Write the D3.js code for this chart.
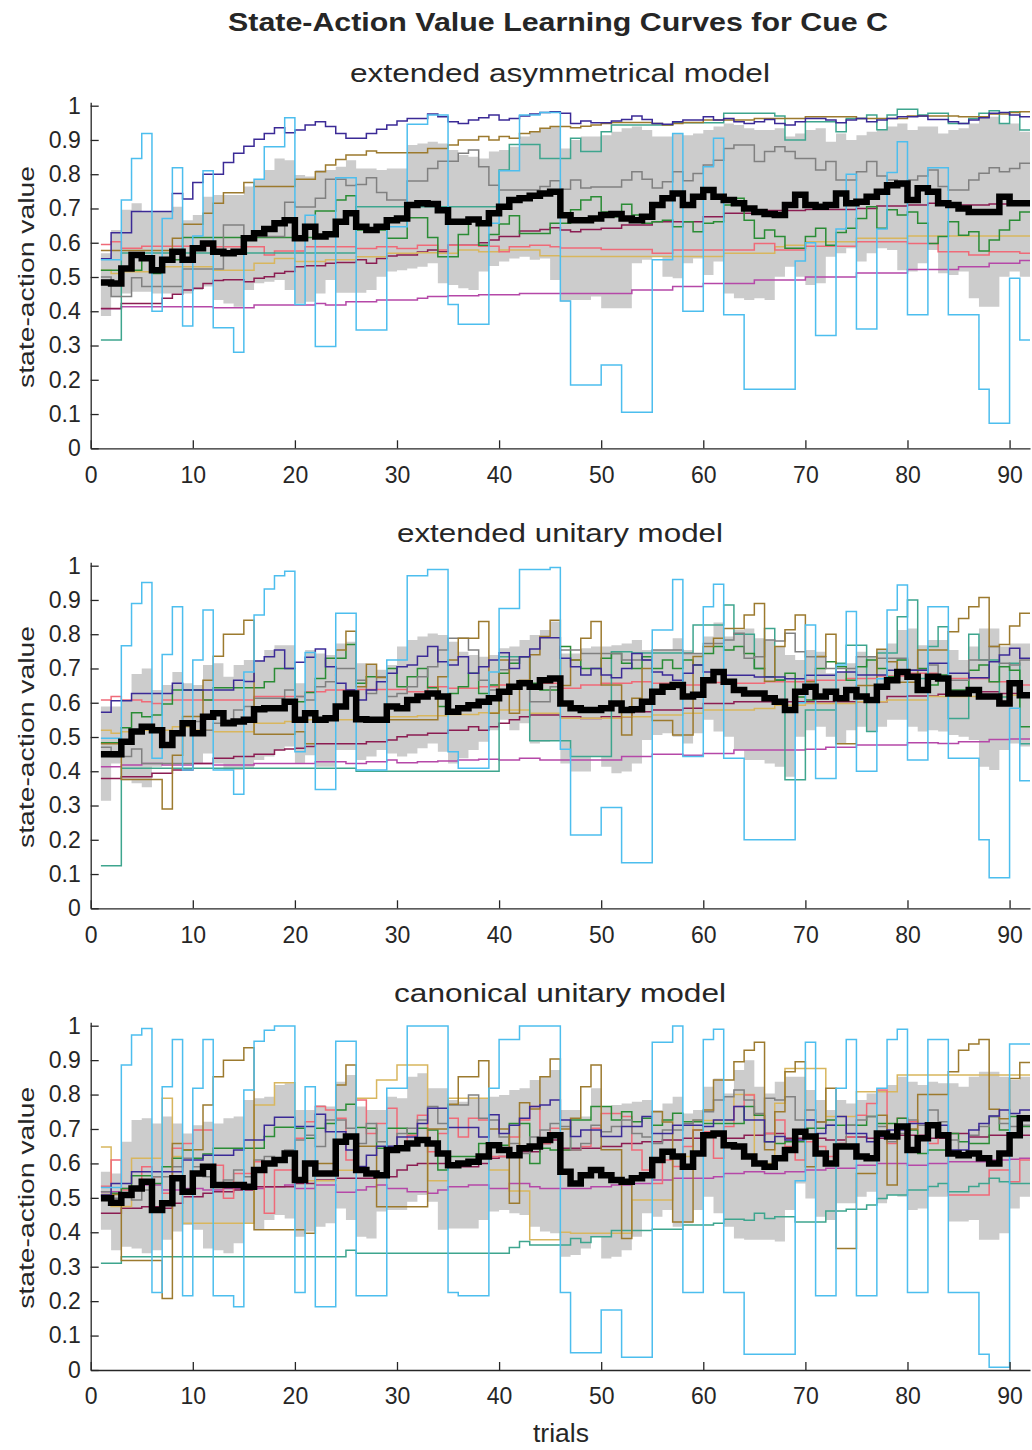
<!DOCTYPE html>
<html>
<head>
<meta charset="utf-8">
<script src="https://cdn.jsdelivr.net/npm/d3@7"></script>
<style>
  body { margin: 0; background: #fff; }
  svg text { font-family: 'Liberation Sans', Arial, Helvetica, sans-serif; fill: #262626; }
</style>
</head>
<body>
<svg width="1032" height="1450"></svg>
<script>
// each series: [trial, value] change points, value holds until the next change (stairs)
const trialCount = 92;
const xTicks = [0, 10, 20, 30, 40, 50, 60, 70, 80, 90];
const yTicks = [0, 0.1, 0.2, 0.3, 0.4, 0.5, 0.6, 0.7, 0.8, 0.9, 1];
const subtitles = ['extended asymmetrical model', 'extended unitary model', 'canonical unitary model'];

const colors = {
  magenta: '#b548a8', maroon: '#8b1d52', lightGold: '#d8b65e', salmon: '#ef6a78',
  teal: '#3ea58e', green: '#2a8c35', gray: '#808080', brown: '#9c7a2e',
  blue: '#3b2a96', cyan: '#4dbeee'
};

// ---------- extended asymmetrical model ----------
const asymBlue = [[1,.553],[2,.629],[4,.691],[8,.744],[9,.728],[10,.776],[11,.80],[13,.834],[14,.861],[15,.882],[16,.902],[17,.919],[18,.936],[19,.921],[20,.929],[21,.944],[22,.953],[23,.939],[24,.919],[25,.905],[27,.919],[28,.931],[29,.944],[30,.955],[31,.963],[33,.976],[34,.968],[35,.953],[36,.948],[37,.958],[38,.965],[39,.973],[40,.958],[41,.963],[42,.97],[43,.976],[44,.98],[45,.982],[46,.978],[47,.948],[48,.955],[49,.95],[51,.955],[52,.96],[53,.97],[54,.96],[55,.948],[56,.946],[57,.953],[58,.958],[60,.968],[61,.958],[62,.963],[63,.953],[64,.948],[65,.953],[66,.96],[67,.948],[68,.944],[69,.953],[70,.963],[72,.958],[73,.95],[74,.958],[75,.963],[76,.953],[77,.958],[78,.963],[79,.968],[81,.97],[82,.96],[84,.953],[85,.948],[86,.958],[87,.965],[88,.978],[89,.98],[90,.973],[91,.968]];
const asymCyan = [[1,.55],[3,.725],[4,.846],[5,.919],[6,.40],[7,.671],[8,.819],[9,.357],[10,.62],[11,.81],[12,.352],[14,.28],[15,.62],[16,.785],[17,.88],[19,.965],[20,.42],[21,.68],[22,.297],[24,.79],[26,.345],[29,.647],[31,.946],[33,.973],[35,.42],[36,.362],[39,.657],[40,.81],[42,.973],[44,.98],[46,.43],[47,.185],[50,.243],[52,.105],[55,.55],[57,.919],[58,.40],[60,.822],[61,.905],[62,.39],[64,.172],[69,.547],[70,.60],[71,.329],[73,.64],[74,.80],[75,.348],[77,.64],[78,.805],[79,.895],[80,.39],[82,.819],[84,.39],[87,.172],[88,.073],[90,.496],[91,.316]];
const asymBrown = [[1,.577],[8,.613],[9,.654],[11,.686],[12,.715],[13,.746],[15,.776],[16,.764],[20,.785],[22,.807],[23,.827],[24,.843],[25,.856],[27,.868],[28,.863],[33,.875],[35,.885],[36,.90],[38,.91],[39,.90],[40,.91],[41,.905],[42,.919],[43,.924],[44,.934],[45,.939],[47,.936],[48,.94],[49,.944],[50,.948],[51,.951],[55,.948],[56,.944],[57,.948],[58,.951],[60,.958],[65,.963],[70,.968],[75,.963],[80,.97],[85,.968],[88,.976],[90,.98],[91,.982]];
const asymTeal = [[1,.316],[3,.57],[26,.705],[40,.812],[41,.887],[44,.846],[47,.905],[48,.866],[50,.924],[51,.944],[57,.95],[62,.978],[67,.97],[68,.90],[70,.953],[73,.924],[74,.963],[76,.973],[77,.93],[78,.973],[79,.99],[81,.973],[82,.978],[84,.948],[86,.963],[87,.978],[88,.985],[89,.948],[90,.982],[91,.929]];
const asymGray = [[1,.50],[2,.443],[4,.498],[5,.472],[9,.523],[13,.652],[15,.618],[19,.718],[20,.704],[22,.73],[23,.785],[25,.767],[26,.77],[27,.79],[28,.747],[29,.725],[31,.78],[33,.817],[34,.838],[36,.861],[37,.871],[38,.822],[39,.768],[40,.754],[44,.764],[45,.781],[46,.756],[47,.783],[48,.76],[49,.763],[52,.783],[53,.807],[54,.785],[55,.76],[56,.778],[57,.807],[58,.781],[59,.802],[60,.827],[61,.841],[62,.875],[63,.885],[65,.837],[66,.866],[67,.88],[68,.866],[69,.846],[71,.812],[72,.837],[73,.783],[75,.807],[76,.837],[77,.795],[78,.783],[79,.764],[80,.783],[81,.795],[82,.812],[83,.764],[84,.754],[86,.783],[87,.803],[88,.819],[89,.807],[90,.817],[91,.832]];
const asymGreen = [[1,.52],[5,.555],[6,.51],[7,.55],[9,.615],[22,.693],[24,.725],[25,.737],[26,.637],[29,.613],[31,.673],[33,.615],[34,.559],[36,.624],[37,.671],[38,.593],[39,.624],[40,.655],[41,.679],[42,.627],[45,.657],[47,.696],[48,.725],[49,.734],[50,.69],[51,.676],[52,.712],[53,.681],[54,.657],[55,.661],[56,.666],[57,.647],[58,.661],[59,.632],[60,.657],[61,.661],[62,.71],[63,.73],[64,.666],[65,.613],[66,.637],[67,.618],[68,.584],[70,.618],[71,.642],[72,.593],[73,.63],[74,.642],[75,.671],[76,.705],[77,.642],[78,.696],[79,.681],[80,.69],[81,.657],[82,.598],[83,.618],[84,.661],[85,.622],[86,.632],[87,.576],[88,.608],[89,.637],[90,.666],[91,.69]];
const asymSalmon = [[1,.595],[2,.603],[3,.584],[5,.59],[12,.588],[17,.564],[18,.576],[21,.588],[26,.583],[28,.588],[30,.583],[32,.593],[34,.579],[35,.593],[38,.59],[40,.574],[41,.588],[43,.593],[45,.588],[46,.585],[50,.58],[55,.569],[57,.579],[65,.598],[67,.579],[70,.59],[75,.603],[80,.598],[83,.574],[86,.564],[88,.574],[91,.569]];
const asymLightGold = [[1,.52],[2,.51],[3,.515],[7,.53],[12,.52],[16,.54],[18,.554],[20,.545],[23,.55],[26,.559],[29,.569],[32,.571],[34,.569],[36,.579],[38,.574],[40,.579],[44,.562],[46,.56],[62,.569],[67,.588],[68,.593],[70,.603],[75,.613],[80,.62]];
const asymMaroon = [[1,.408],[3,.423],[7,.438],[8,.45],[9,.462],[10,.467],[11,.481],[12,.49],[13,.492],[15,.486],[16,.496],[17,.501],[18,.511],[19,.516],[20,.53],[21,.533],[23,.54],[24,.542],[26,.55],[27,.54],[28,.554],[29,.561],[30,.564],[32,.573],[33,.579],[34,.574],[35,.593],[38,.60],[39,.608],[40,.618],[42,.634],[44,.639],[45,.644],[46,.637],[47,.632],[48,.639],[50,.642],[52,.652],[55,.661],[60,.676],[62,.686],[65,.694],[70,.697],[75,.70],[77,.707],[80,.71],[82,.715],[85,.71],[88,.713],[90,.715]];
const asymMagenta = [[1,.407],[3,.413],[12,.41],[16,.418],[22,.423],[23,.418],[25,.428],[28,.433],[32,.438],[33,.443],[35,.445],[38,.448],[42,.452],[53,.462],[57,.472],[60,.481],[65,.491],[70,.50],[75,.512],[80,.522],[85,.53],[88,.54],[91,.548]];
const asymMean = [[1,.484],[2,.481],[3,.525],[4,.564],[5,.555],[6,.52],[7,.55],[8,.574],[9,.55],[10,.584],[11,.598],[12,.574],[13,.569],[14,.574],[15,.613],[16,.628],[17,.64],[18,.657],[19,.666],[20,.613],[21,.647],[22,.618],[23,.625],[24,.661],[25,.686],[26,.647],[27,.637],[28,.647],[29,.666],[30,.671],[31,.71],[32,.715],[33,.713],[34,.695],[35,.661],[37,.668],[38,.657],[39,.686],[40,.705],[41,.725],[42,.73],[43,.737],[44,.744],[45,.749],[46,.68],[47,.666],[49,.671],[50,.681],[51,.684],[52,.671],[53,.666],[54,.676],[55,.71],[56,.73],[57,.744],[58,.71],[59,.734],[60,.754],[61,.734],[62,.725],[63,.715],[64,.70],[65,.69],[66,.684],[67,.681],[68,.71],[69,.74],[70,.71],[71,.705],[72,.71],[73,.744],[74,.715],[75,.72],[76,.734],[77,.749],[78,.768],[79,.773],[80,.725],[81,.759],[82,.749],[83,.715],[84,.71],[85,.70],[86,.69],[89,.734],[90,.715]];
const asymUpper = [[1,.569],[2,.637],[3,.696],[4,.715],[5,.69],[8,.705],[9,.666],[10,.681],[11,.734],[12,.739],[15,.764],[16,.783],[17,.812],[18,.846],[19,.841],[20,.798],[21,.793],[22,.812],[24,.822],[25,.841],[26,.817],[28,.812],[29,.817],[31,.885],[32,.89],[33,.895],[34,.89],[35,.871],[36,.856],[37,.851],[38,.846],[39,.866],[40,.871],[41,.88],[42,.91],[43,.924],[44,.934],[45,.939],[46,.875],[47,.90],[48,.91],[50,.914],[51,.924],[52,.934],[53,.939],[54,.929],[55,.91],[57,.919],[58,.914],[59,.919],[60,.929],[61,.939],[62,.948],[63,.944],[64,.934],[65,.929],[67,.934],[68,.91],[69,.919],[70,.929],[71,.934],[72,.895],[73,.919],[74,.90],[75,.914],[76,.924],[77,.929],[78,.939],[79,.948],[80,.929],[81,.939],[83,.919],[84,.929],[85,.934],[86,.948],[87,.968],[89,.948],[91,.924]];
const asymLower = [[1,.386],[2,.441],[3,.452],[4,.457],[6,.452],[10,.462],[11,.472],[12,.433],[13,.423],[14,.413],[15,.462],[16,.482],[17,.486],[18,.491],[19,.462],[20,.423],[21,.428],[22,.452],[23,.491],[24,.454],[27,.462],[28,.501],[29,.516],[30,.52],[31,.525],[32,.53],[33,.54],[34,.482],[35,.477],[36,.467],[37,.462],[38,.516],[39,.532],[40,.545],[41,.554],[42,.559],[43,.55],[44,.554],[45,.491],[46,.428],[47,.433],[49,.443],[50,.409],[53,.54],[54,.55],[55,.559],[56,.501],[57,.496],[58,.54],[59,.554],[60,.506],[61,.545],[62,.452],[63,.438],[64,.433],[65,.438],[66,.433],[67,.501],[68,.53],[69,.501],[70,.477],[71,.482],[72,.559],[73,.569],[74,.584],[75,.545],[76,.569],[77,.584],[78,.579],[79,.52],[80,.516],[81,.54],[82,.579],[83,.511],[84,.506],[85,.516],[86,.438],[87,.413],[89,.501],[90,.516],[91,.501]];

// ---------- extended unitary model ----------
const unitBlue = [[1,.572],[2,.606],[4,.627],[8,.657],[9,.637],[14,.666],[15,.662],[16,.722],[17,.734],[18,.754],[19,.70],[20,.718],[21,.733],[22,.757],[23,.705],[24,.657],[25,.637],[26,.608],[27,.637],[28,.661],[29,.686],[30,.705],[31,.71],[32,.736],[33,.764],[34,.72],[35,.71],[36,.734],[37,.686],[38,.705],[39,.725],[40,.746],[41,.70],[42,.734],[43,.757],[44,.79],[46,.73],[47,.705],[48,.681],[49,.70],[50,.681],[51,.673],[52,.70],[53,.744],[54,.725],[55,.69],[56,.681],[57,.666],[58,.686],[59,.71],[60,.69],[62,.68],[65,.675],[68,.67],[70,.68],[73,.69],[75,.681],[78,.695],[82,.715],[84,.686],[86,.673],[88,.72],[89,.739],[90,.759],[91,.73]];
const unitCyan = [[1,.496],[3,.766],[4,.89],[5,.951],[6,.438],[7,.741],[8,.88],[9,.404],[10,.725],[11,.871],[12,.404],[14,.333],[15,.69],[16,.856],[17,.932],[18,.971],[19,.984],[20,.457],[21,.747],[22,.347],[24,.861],[26,.404],[29,.725],[31,.971],[33,.989],[35,.457],[36,.409],[39,.69],[40,.875],[42,.989],[45,.995],[46,.464],[47,.214],[50,.294],[52,.133],[55,.812],[57,.96],[58,.443],[60,.88],[61,.946],[62,.438],[64,.20],[69,.60],[70,.827],[71,.379],[73,.71],[74,.866],[75,.40],[77,.67],[78,.871],[79,.944],[80,.433],[82,.88],[84,.438],[87,.20],[88,.089],[90,.584],[91,.372]];
const unitBrown = [[1,.48],[3,.376],[7,.29],[8,.447],[9,.56],[11,.666],[12,.736],[13,.80],[15,.841],[16,.508],[20,.515],[21,.48],[22,.55],[24,.754],[25,.809],[26,.647],[27,.712],[28,.674],[29,.55],[34,.676],[35,.725],[36,.788],[38,.837],[39,.569],[40,.725],[41,.569],[42,.666],[43,.74],[44,.793],[45,.841],[46,.65],[47,.725],[48,.788],[49,.837],[50,.652],[52,.506],[53,.613],[54,.70],[55,.548],[57,.506],[59,.735],[60,.764],[61,.788],[62,.817],[64,.856],[65,.89],[66,.663],[67,.764],[68,.813],[69,.856],[70,.661],[71,.735],[72,.80],[73,.48],[75,.65],[77,.756],[78,.72],[79,.66],[81,.754],[84,.807],[85,.846],[86,.88],[87,.907],[88,.764],[89,.77],[90,.824],[91,.861]];
const unitTeal = [[1,.124],[3,.409],[26,.40],[40,.734],[43,.489],[47,.443],[51,.749],[53,.745],[59,.827],[62,.885],[63,.80],[65,.70],[66,.817],[67,.667],[68,.375],[70,.579],[73,.715],[74,.768],[76,.516],[77,.745],[79,.851],[80,.90],[81,.671],[82,.764],[83,.822],[84,.554],[86,.80],[87,.725],[89,.617],[90,.715],[91,.48]];
const unitGray = [[1,.47],[2,.443],[4,.465],[5,.423],[10,.545],[11,.52],[12,.54],[13,.55],[14,.579],[15,.589],[16,.613],[19,.637],[20,.618],[21,.608],[22,.647],[23,.661],[24,.70],[26,.666],[27,.627],[28,.676],[29,.618],[30,.627],[31,.647],[32,.676],[33,.705],[34,.754],[35,.788],[37,.754],[38,.666],[39,.637],[40,.696],[41,.725],[42,.734],[43,.603],[45,.647],[46,.754],[48,.744],[52,.725],[55,.754],[58,.744],[60,.773],[62,.783],[63,.803],[64,.73],[65,.734],[66,.783],[67,.78],[68,.803],[69,.749],[70,.734],[72,.70],[75,.734],[77,.73],[80,.696],[82,.71],[83,.666],[86,.725],[88,.764],[89,.715],[90,.71],[91,.725]];
const unitGreen = [[1,.483],[3,.527],[4,.571],[5,.559],[6,.564],[7,.596],[8,.637],[11,.608],[12,.644],[17,.661],[18,.70],[20,.603],[21,.63],[22,.671],[23,.73],[25,.77],[26,.657],[27,.676],[29,.70],[30,.647],[31,.676],[32,.70],[33,.644],[34,.589],[35,.627],[36,.647],[37,.686],[38,.627],[39,.652],[40,.686],[41,.715],[42,.734],[43,.657],[44,.637],[46,.764],[47,.725],[48,.70],[50,.73],[51,.744],[52,.715],[53,.70],[54,.734],[55,.70],[56,.725],[57,.70],[58,.725],[59,.71],[60,.744],[61,.764],[62,.754],[63,.764],[64,.744],[65,.70],[66,.676],[67,.666],[68,.686],[69,.617],[70,.608],[71,.70],[72,.72],[73,.705],[74,.666],[75,.705],[76,.725],[77,.70],[78,.676],[79,.725],[80,.695],[81,.70],[82,.652],[83,.681],[84,.637],[86,.695],[87,.71],[88,.661],[89,.705],[90,.695],[91,.53]];
const unitSalmon = [[1,.608],[2,.618],[3,.608],[5,.603],[6,.598],[7,.608],[16,.618],[21,.632],[23,.637],[26,.639],[31,.632],[33,.647],[35,.642],[38,.647],[40,.652],[44,.657],[46,.642],[48,.652],[50,.657],[53,.661],[55,.657],[57,.652],[60,.659],[63,.657],[66,.661],[70,.666],[74,.671],[77,.678],[80,.686],[83,.671],[88,.661],[90,.652]];
const unitLightGold = [[1,.52],[2,.511],[3,.515],[5,.52],[8,.53],[10,.52],[12,.515],[16,.54],[19,.545],[21,.55],[26,.554],[29,.559],[32,.562],[35,.566],[38,.571],[40,.579],[43,.569],[46,.555],[52,.559],[55,.564],[58,.569],[60,.579],[65,.583],[67,.593],[70,.598],[75,.603],[78,.608],[82,.618],[90,.622]];
const unitMaroon = [[1,.379],[3,.384],[6,.394],[8,.404],[10,.423],[12,.438],[14,.443],[16,.45],[18,.462],[19,.465],[20,.467],[21,.472],[22,.48],[27,.486],[29,.491],[30,.501],[31,.506],[33,.511],[35,.52],[37,.53],[38,.52],[39,.53],[40,.54],[41,.55],[42,.559],[43,.564],[46,.559],[48,.554],[50,.559],[53,.574],[55,.579],[58,.584],[60,.598],[63,.603],[78,.618],[80,.62],[83,.625],[86,.632],[89,.627],[91,.629]];
const unitMagenta = [[1,.413],[3,.418],[5,.423],[7,.418],[10,.423],[12,.418],[16,.423],[22,.428],[25,.423],[27,.428],[29,.433],[30,.425],[32,.428],[34,.43],[36,.433],[38,.435],[40,.433],[42,.438],[44,.433],[52,.443],[55,.45],[58,.447],[60,.452],[63,.462],[70,.464],[72,.47],[75,.477],[80,.483],[83,.481],[85,.486],[88,.493],[90,.494]];
const unitMean = [[1,.45],[3,.486],[4,.516],[5,.53],[6,.52],[7,.477],[8,.511],[9,.54],[10,.511],[11,.559],[12,.569],[13,.54],[14,.545],[15,.55],[16,.581],[17,.584],[19,.603],[20,.55],[21,.569],[22,.55],[23,.555],[24,.589],[25,.627],[26,.552],[27,.55],[29,.589],[30,.584],[31,.608],[32,.618],[33,.627],[34,.618],[35,.574],[36,.584],[37,.593],[38,.603],[39,.613],[40,.632],[41,.647],[42,.657],[43,.647],[44,.666],[45,.671],[46,.598],[47,.584],[48,.579],[50,.584],[51,.598],[52,.579],[53,.581],[54,.603],[55,.632],[56,.647],[57,.652],[58,.618],[59,.623],[60,.666],[61,.69],[62,.661],[63,.637],[64,.627],[66,.613],[67,.603],[68,.579],[69,.632],[70,.647],[71,.618],[72,.632],[73,.613],[74,.637],[75,.618],[76,.608],[77,.647],[78,.666],[79,.69],[80,.676],[81,.637],[82,.676],[83,.671],[84,.627],[86,.637],[87,.618],[89,.598],[90,.657],[91,.622]];
const unitUpper = [[1,.589],[3,.608],[4,.684],[5,.70],[6,.637],[7,.652],[8,.69],[9,.657],[10,.652],[11,.71],[12,.715],[13,.676],[14,.71],[15,.725],[17,.754],[18,.768],[20,.657],[21,.754],[22,.744],[23,.739],[24,.773],[25,.778],[26,.715],[27,.71],[28,.696],[29,.71],[30,.764],[31,.783],[32,.793],[33,.802],[34,.798],[35,.778],[36,.749],[37,.739],[38,.734],[39,.739],[40,.759],[41,.764],[42,.783],[43,.798],[44,.812],[45,.837],[46,.744],[48,.759],[49,.764],[51,.768],[52,.773],[53,.783],[54,.754],[57,.788],[58,.754],[59,.744],[60,.793],[61,.834],[62,.793],[63,.812],[64,.817],[65,.788],[66,.783],[67,.764],[68,.739],[69,.725],[70,.754],[71,.749],[72,.686],[73,.69],[74,.715],[75,.749],[76,.734],[77,.754],[78,.773],[79,.812],[80,.817],[81,.768],[82,.783],[84,.754],[85,.725],[86,.764],[87,.817],[89,.764],[90,.773]];
const unitLower = [[1,.314],[2,.423],[3,.374],[4,.365],[5,.353],[6,.413],[7,.423],[11,.452],[12,.423],[13,.404],[15,.409],[16,.433],[17,.443],[18,.462],[19,.472],[20,.423],[21,.447],[22,.413],[24,.462],[26,.433],[27,.443],[28,.462],[29,.452],[30,.443],[31,.452],[32,.467],[33,.481],[34,.457],[35,.423],[36,.438],[37,.462],[38,.486],[39,.52],[40,.55],[41,.52],[42,.54],[43,.481],[44,.486],[45,.491],[46,.423],[47,.399],[49,.443],[50,.413],[51,.394],[52,.399],[53,.423],[54,.491],[55,.506],[56,.511],[57,.501],[58,.481],[59,.511],[60,.55],[61,.516],[62,.501],[63,.462],[64,.433],[66,.423],[67,.413],[68,.384],[69,.501],[70,.52],[71,.53],[72,.501],[73,.481],[74,.52],[75,.53],[76,.516],[77,.53],[78,.55],[80,.53],[81,.516],[82,.52],[83,.516],[84,.506],[85,.501],[86,.491],[87,.413],[88,.404],[89,.462],[90,.481],[91,.472]];

// ---------- canonical unitary model ----------
const canonBlue = [[1,.508],[2,.542],[4,.576],[9,.61],[11,.624],[14,.639],[15,.668],[17,.711],[18,.734],[20,.707],[22,.743],[23,.692],[25,.639],[26,.591],[27,.624],[28,.65],[30,.677],[32,.716],[33,.76],[35,.704],[38,.677],[39,.741],[40,.687],[41,.711],[42,.731],[43,.765],[44,.77],[45,.784],[46,.726],[47,.678],[48,.697],[50,.678],[52,.707],[54,.736],[55,.687],[57,.711],[60,.707],[61,.726],[63,.765],[64,.726],[66,.663],[67,.678],[68,.668],[70,.726],[71,.687],[72,.711],[73,.736],[74,.687],[76,.663],[77,.678],[78,.697],[80,.716],[82,.711],[84,.639],[86,.697],[87,.716],[88,.738],[89,.755],[90,.745],[91,.755]];
const canonCyan = [[1,.53],[3,.886],[4,.973],[5,.992],[6,.225],[7,.823],[8,.96],[9,.216],[10,.818],[11,.96],[12,.216],[14,.184],[15,.813],[16,.955],[17,.987],[18,.999],[20,.225],[21,.823],[22,.184],[24,.955],[26,.216],[29,.818],[31,.999],[35,.225],[36,.216],[39,.818],[40,.96],[42,.999],[46,.225],[47,.05],[50,.174],[52,.037],[55,.952],[57,.999],[58,.225],[60,.96],[61,.99],[62,.225],[64,.046],[69,.55],[70,.952],[71,.216],[73,.818],[74,.96],[75,.216],[77,.818],[78,.96],[79,.99],[80,.225],[82,.96],[84,.225],[87,.046],[88,.008],[90,.947]];
const canonBrown = [[1,.51],[3,.318],[7,.208],[8,.658],[9,.64],[11,.77],[12,.852],[13,.90],[15,.936],[16,.407],[21,.397],[22,.60],[24,.828],[25,.886],[26,.65],[28,.474],[33,.70],[35,.772],[36,.852],[38,.898],[39,.70],[41,.484],[42,.776],[43,.758],[44,.852],[45,.903],[46,.70],[47,.731],[48,.823],[49,.886],[50,.64],[52,.382],[53,.56],[55,.75],[56,.72],[57,.43],[59,.697],[60,.755],[61,.842],[63,.895],[64,.929],[65,.952],[66,.64],[67,.75],[68,.866],[69,.895],[70,.59],[71,.72],[72,.818],[73,.353],[75,.571],[77,.74],[78,.537],[79,.70],[81,.80],[84,.866],[85,.929],[86,.947],[87,.96],[88,.757],[89,.73],[90,.847],[91,.893]];
const canonTeal = [[1,.31],[3,.329],[25,.348],[26,.339],[41,.356],[42,.373],[43,.363],[47,.382],[48,.37],[49,.387],[51,.405],[55,.409],[58,.421],[61,.426],[62,.438],[64,.435],[65,.455],[66,.44],[67,.445],[69,.43],[72,.462],[74,.467],[76,.479],[77,.498],[78,.508],[80,.523],[82,.533],[83,.542],[84,.518],[86,.533],[87,.542],[88,.557],[89,.547],[90,.542]];
const canonGray = [[1,.518],[2,.499],[3,.508],[4,.494],[5,.523],[6,.561],[8,.59],[9,.615],[10,.59],[11,.561],[12,.542],[13,.552],[14,.581],[15,.561],[16,.61],[17,.62],[18,.61],[19,.639],[20,.668],[21,.682],[22,.649],[23,.726],[25,.702],[26,.658],[27,.716],[28,.663],[29,.649],[30,.687],[31,.702],[32,.726],[33,.765],[34,.716],[35,.77],[37,.799],[38,.731],[39,.726],[40,.677],[41,.658],[42,.629],[43,.677],[44,.697],[45,.716],[46,.707],[47,.639],[48,.658],[49,.711],[50,.692],[51,.707],[52,.726],[53,.687],[54,.677],[55,.658],[56,.697],[58,.716],[59,.726],[60,.75],[61,.784],[62,.794],[63,.813],[64,.784],[65,.745],[66,.789],[67,.784],[68,.794],[69,.726],[70,.755],[71,.721],[72,.711],[73,.658],[74,.711],[75,.726],[76,.736],[77,.707],[78,.663],[79,.687],[80,.726],[81,.711],[82,.755],[83,.721],[84,.668],[85,.62],[86,.682],[87,.707],[88,.736],[89,.716],[90,.707],[91,.711]];
const canonGreen = [[1,.505],[2,.513],[3,.527],[4,.564],[6,.542],[7,.59],[8,.615],[9,.639],[10,.615],[11,.627],[12,.644],[17,.678],[18,.705],[20,.702],[21,.673],[22,.702],[23,.716],[24,.755],[25,.772],[26,.704],[27,.702],[28,.644],[29,.702],[31,.687],[32,.702],[33,.697],[34,.581],[35,.62],[38,.658],[39,.653],[41,.716],[43,.60],[44,.644],[45,.639],[47,.726],[49,.765],[51,.726],[52,.75],[53,.721],[54,.731],[55,.711],[56,.726],[57,.746],[58,.721],[60,.716],[64,.765],[65,.74],[66,.663],[67,.658],[68,.663],[70,.702],[72,.726],[73,.711],[76,.736],[77,.716],[79,.731],[80,.697],[81,.629],[82,.639],[84,.687],[85,.663],[86,.658],[88,.736],[89,.697],[90,.736],[91,.707]];
const canonSalmon = [[1,.534],[2,.61],[3,.523],[5,.59],[6,.561],[7,.513],[8,.644],[9,.658],[10,.697],[12,.595],[13,.499],[14,.571],[16,.605],[17,.455],[18,.581],[20,.673],[21,.721],[22,.765],[23,.755],[24,.731],[25,.61],[26,.784],[27,.687],[28,.716],[29,.76],[30,.649],[31,.682],[32,.74],[33,.634],[34,.687],[35,.731],[36,.677],[37,.731],[38,.726],[39,.62],[41,.677],[42,.726],[43,.765],[44,.658],[45,.702],[46,.639],[48,.649],[49,.702],[50,.745],[52,.736],[53,.639],[54,.581],[55,.542],[56,.61],[57,.591],[58,.649],[59,.697],[60,.692],[61,.615],[62,.707],[63,.765],[64,.799],[65,.74],[66,.687],[67,.726],[68,.649],[69,.61],[70,.663],[71,.649],[72,.62],[73,.658],[74,.677],[75,.74],[76,.774],[77,.813],[78,.658],[79,.731],[80,.721],[81,.677],[82,.658],[83,.687],[84,.508],[88,.581],[90,.547],[91,.61]];
const canonLightGold = [[1,.648],[2,.475],[4,.615],[7,.789],[8,.62],[9,.426],[16,.77],[18,.834],[20,.55],[24,.58],[26,.789],[28,.842],[30,.886],[33,.55],[35,.789],[39,.581],[41,.52],[43,.378],[46,.40],[47,.397],[53,.494],[57,.62],[59,.725],[63,.80],[65,.60],[67,.775],[68,.876],[72,.736],[75,.808],[79,.857]];
const canonMaroon = [[1,.455],[3,.47],[5,.474],[7,.47],[8,.484],[9,.503],[11,.513],[12,.518],[14,.523],[16,.532],[20,.542],[22,.552],[24,.557],[28,.561],[30,.581],[31,.595],[32,.60],[36,.59],[38,.60],[39,.615],[40,.62],[42,.634],[44,.658],[45,.668],[46,.644],[50,.649],[52,.658],[54,.663],[56,.668],[58,.673],[60,.68],[62,.673],[64,.682],[66,.687],[68,.673],[72,.668],[74,.677],[76,.673],[78,.682],[82,.673],[84,.687],[86,.677],[88,.682],[90,.677],[91,.682]];
const canonMagenta = [[1,.518],[3,.527],[5,.537],[7,.523],[9,.527],[11,.523],[13,.527],[17,.532],[19,.537],[20,.527],[22,.537],[24,.516],[26,.523],[27,.532],[28,.537],[29,.527],[31,.518],[33,.513],[34,.523],[35,.532],[37,.537],[39,.527],[41,.542],[43,.532],[44,.527],[49,.532],[51,.537],[53,.542],[55,.552],[57,.557],[61,.561],[62,.571],[64,.576],[66,.571],[68,.576],[70,.581],[72,.586],[75,.595],[77,.60],[80,.595],[82,.60],[84,.605],[88,.61],[90,.612],[91,.615]];
const canonMean = [[1,.499],[2,.486],[3,.508],[4,.527],[5,.547],[6,.465],[7,.484],[8,.557],[9,.518],[10,.571],[11,.59],[12,.537],[15,.532],[16,.581],[17,.60],[18,.61],[19,.629],[20,.552],[21,.60],[22,.571],[24,.663],[25,.678],[26,.581],[27,.571],[28,.566],[29,.639],[30,.644],[31,.658],[32,.668],[33,.658],[34,.629],[35,.595],[36,.60],[37,.605],[38,.62],[39,.653],[40,.639],[41,.624],[42,.644],[43,.649],[44,.668],[45,.682],[46,.576],[47,.542],[48,.566],[49,.581],[50,.566],[51,.552],[52,.547],[53,.557],[54,.566],[55,.61],[56,.634],[57,.62],[58,.59],[59,.629],[60,.682],[61,.687],[62,.653],[63,.649],[64,.62],[65,.60],[66,.59],[67,.615],[68,.639],[69,.692],[70,.678],[71,.629],[72,.60],[73,.649],[75,.62],[76,.615],[77,.687],[78,.678],[79,.707],[80,.639],[81,.673],[82,.711],[83,.682],[84,.629],[85,.624],[86,.629],[87,.615],[88,.60],[89,.629],[90,.682],[91,.731]];
const canonUpper = [[1,.576],[2,.571],[3,.663],[4,.726],[5,.731],[6,.716],[7,.736],[8,.716],[9,.687],[10,.711],[11,.721],[12,.716],[13,.731],[14,.736],[15,.784],[16,.789],[17,.794],[18,.828],[19,.833],[20,.755],[22,.77],[23,.765],[24,.837],[25,.857],[26,.765],[27,.755],[29,.794],[30,.789],[31,.852],[32,.862],[33,.818],[35,.784],[36,.779],[37,.794],[38,.789],[39,.794],[40,.799],[41,.813],[42,.818],[43,.842],[44,.852],[45,.871],[46,.755],[48,.736],[49,.818],[50,.765],[51,.77],[52,.774],[53,.779],[54,.784],[55,.755],[56,.774],[57,.794],[58,.745],[59,.755],[60,.823],[61,.847],[62,.803],[63,.871],[64,.90],[65,.823],[66,.803],[67,.837],[68,.852],[70,.813],[71,.784],[72,.755],[73,.784],[74,.774],[75,.784],[76,.803],[77,.813],[78,.828],[79,.852],[80,.837],[81,.828],[82,.837],[83,.833],[85,.823],[86,.852],[87,.866],[89,.852],[90,.842],[91,.852]];
const canonLower = [[1,.407],[2,.348],[3,.358],[4,.353],[5,.339],[6,.348],[7,.378],[8,.402],[9,.421],[10,.407],[11,.353],[12,.348],[13,.339],[14,.368],[15,.426],[16,.407],[17,.436],[18,.45],[19,.44],[20,.387],[21,.402],[22,.416],[23,.426],[24,.469],[25,.436],[26,.387],[27,.382],[28,.46],[29,.465],[31,.489],[32,.508],[33,.489],[34,.407],[35,.411],[38,.436],[39,.46],[40,.465],[41,.455],[42,.45],[43,.416],[44,.402],[45,.397],[46,.329],[47,.334],[48,.353],[49,.387],[50,.324],[51,.329],[52,.348],[53,.387],[54,.455],[55,.445],[56,.465],[57,.416],[58,.426],[59,.465],[60,.503],[61,.455],[62,.416],[63,.382],[64,.378],[67,.373],[68,.465],[69,.542],[70,.498],[71,.445],[72,.436],[73,.484],[75,.503],[76,.518],[77,.484],[78,.508],[79,.503],[80,.465],[81,.469],[82,.503],[84,.431],[86,.436],[87,.378],[89,.397],[90,.469],[91,.503]];

const panels = [
  { top: 105.7, bottom: 448.3, upper: asymUpper, lower: asymLower, mean: asymMean,
    lines: { magenta: asymMagenta, maroon: asymMaroon, lightGold: asymLightGold, salmon: asymSalmon, teal: asymTeal,
             green: asymGreen, gray: asymGray, brown: asymBrown, blue: asymBlue, cyan: asymCyan } },
  { top: 565.7, bottom: 908.3, upper: unitUpper, lower: unitLower, mean: unitMean,
    lines: { magenta: unitMagenta, maroon: unitMaroon, lightGold: unitLightGold, salmon: unitSalmon, teal: unitTeal,
             green: unitGreen, gray: unitGray, brown: unitBrown, blue: unitBlue, cyan: unitCyan } },
  { top: 1025.7, bottom: 1370, upper: canonUpper, lower: canonLower, mean: canonMean,
    lines: { magenta: canonMagenta, maroon: canonMaroon, lightGold: canonLightGold, salmon: canonSalmon, teal: canonTeal,
             green: canonGreen, gray: canonGray, brown: canonBrown, blue: canonBlue, cyan: canonCyan } }
];

const svg = d3.select('svg');

const x = d3.scaleLinear().domain([0, 92]).range([90.7, 1030]);

// stairs: add the last point at the final trial
function stairs(changes) {
  const pts = changes.slice();
  const last = pts[pts.length - 1];
  if (last[0] < trialCount) pts.push([trialCount, last[1]]);
  return pts;
}

// value at every trial (held from the last change)
function held(changes) {
  const out = [];
  let k = 0;
  for (let t = 1; t <= trialCount; t++) {
    while (k + 1 < changes.length && changes[k + 1][0] <= t) k++;
    out.push(changes[k][1]);
  }
  return out;
}

svg.append('text')
  .attr('x', 558)
  .attr('y', 31)
  .attr('text-anchor', 'middle')
  .attr('font-size', 26)
  .attr('font-weight', 'bold')
  .attr('textLength', 660)
  .attr('lengthAdjust', 'spacingAndGlyphs')
  .text('State-Action Value Learning Curves for Cue C');

const subtitleWidths = [420, 326, 332];

panels.forEach((p, i) => {
  const y = d3.scaleLinear()
    .domain([0, 1.01])
    .range([p.bottom, p.bottom - (p.bottom - p.top) * 1.01]);

  const g = svg.append('g');

  // grey band
  const up = held(p.upper);
  const lo = held(p.lower);
  const band = d3.area()
    .x((d, j) => x(j + 1))
    .y0((d, j) => y(lo[j]))
    .y1((d, j) => y(up[j]))
    .curve(d3.curveStepAfter);
  g.append('path')
    .attr('d', band(up))
    .attr('fill', '#cccccc');

  const line = d3.line()
    .x(d => x(d[0]))
    .y(d => y(d[1]))
    .curve(d3.curveStepAfter);

  Object.keys(p.lines).forEach(name => {
    g.append('path')
      .attr('d', line(stairs(p.lines[name])))
      .attr('fill', 'none')
      .attr('stroke', colors[name])
      .attr('stroke-width', 1.5);
  });

  g.append('path')
    .attr('d', line(stairs(p.mean)))
    .attr('fill', 'none')
    .attr('stroke', '#000')
    .attr('stroke-width', 6.5)
    .attr('stroke-linejoin', 'miter');

  // axes, ticks inward
  const xAxis = g.append('g')
    .attr('transform', `translate(0, ${p.bottom})`)
    .call(d3.axisBottom(x).tickValues(xTicks).tickSize(-8).tickSizeOuter(0).tickPadding(18));
  const yAxis = g.append('g')
    .attr('transform', `translate(${x(0)}, 0)`)
    .call(d3.axisLeft(y).tickValues(yTicks).tickFormat(d => d).tickSize(-8).tickSizeOuter(0).tickPadding(10));

  [xAxis, yAxis].forEach(a => {
    a.selectAll('path, line').attr('stroke', '#262626').attr('stroke-width', 1.3);
    a.selectAll('text').attr('font-size', 23).attr('fill', '#262626')
      .style('font-family', "'Liberation Sans', Arial, sans-serif");
  });

  g.append('text')
    .attr('x', 560)
    .attr('y', p.top - 24)
    .attr('text-anchor', 'middle')
    .attr('font-size', 26)
    .attr('textLength', subtitleWidths[i])
    .attr('lengthAdjust', 'spacingAndGlyphs')
    .text(subtitles[i]);

  g.append('text')
    .attr('transform', `translate(34, ${(p.top + p.bottom) / 2}) rotate(-90)`)
    .attr('text-anchor', 'middle')
    .attr('font-size', 22)
    .attr('textLength', 222)
    .attr('lengthAdjust', 'spacingAndGlyphs')
    .text('state-action value');
});

svg.append('text')
  .attr('x', 561)
  .attr('y', 1442)
  .attr('text-anchor', 'middle')
  .attr('font-size', 25)
  .attr('textLength', 56)
  .attr('lengthAdjust', 'spacingAndGlyphs')
  .text('trials');
</script>
</body>
</html>
